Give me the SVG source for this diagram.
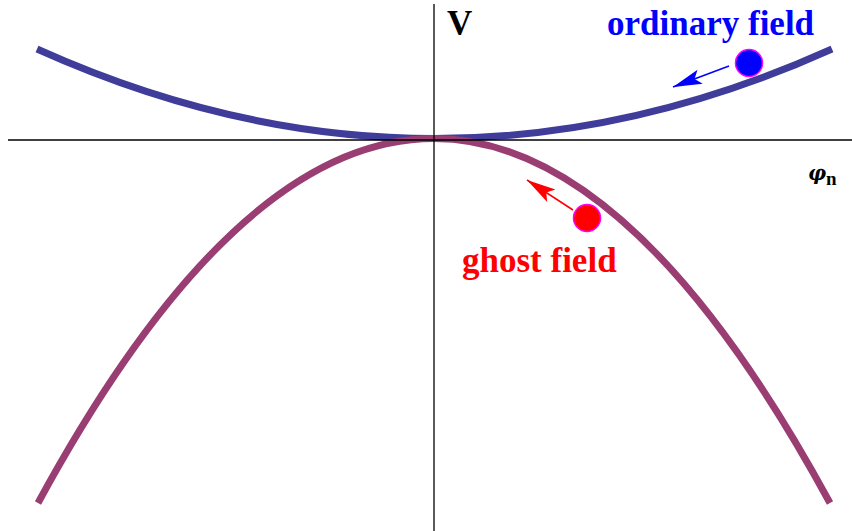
<svg xmlns="http://www.w3.org/2000/svg" width="852" height="531" viewBox="0 0 852 531">
<style>
.axis{stroke:#000;stroke-width:1.3;fill:none}
.curve{fill:none;stroke-width:7}
.lbl{font-family:"Liberation Serif","Times New Roman",serif;font-weight:bold}
</style>
<defs>
<marker id="ahBlue" markerUnits="userSpaceOnUse" markerWidth="40" markerHeight="20" viewBox="-30 -10 32 20" refX="0" refY="0" orient="auto" overflow="visible">
<path d="M0,0 L-29,-7.5 L-23,0 L-29,7.5 Z" fill="#0000ff"/>
</marker>
<marker id="ahRed" markerUnits="userSpaceOnUse" markerWidth="40" markerHeight="20" viewBox="-30 -10 32 20" refX="0" refY="0" orient="auto" overflow="visible">
<path d="M0,0 L-29,-7.5 L-23,0 L-29,7.5 Z" fill="#ff0000"/>
</marker>
</defs>
<rect width="852" height="531" fill="#fff"/>
<g id="curves">
<path id="ordinary-curve" class="curve" stroke="#3f3d99" d="M37,49 Q434.5,228 832,49"/>
<path id="ghost-curve" class="curve" stroke="#993d72" d="M38,503 Q434,-226 830,503"/>
</g>
<g id="axes">
<line class="axis" x1="8" y1="140" x2="852" y2="140"/>
<line class="axis" x1="434" y1="4" x2="434" y2="531"/>
</g>
<g id="connectors">
<line x1="729" y1="66" x2="673" y2="87" stroke="#0000ff" stroke-width="1.5" marker-end="url(#ahBlue)"/>
<line x1="573" y1="210" x2="527" y2="180" stroke="#ff0000" stroke-width="1.5" marker-end="url(#ahRed)"/>
</g>
<g id="ordinary-ball">
<circle cx="749" cy="63" r="13.5" fill="#0000ff" stroke="#ff00ff" stroke-width="1.5"/>
</g>
<g id="ghost-ball">
<circle cx="587" cy="218" r="13.5" fill="#ff0000" stroke="#ff00ff" stroke-width="1.5"/>
</g>
<g id="labels">
<text x="808" y="180" fill="#000"><tspan font-family="'DejaVu Serif', serif" font-weight="bold" font-style="italic" font-size="20">φ</tspan><tspan font-family="'Liberation Serif', serif" font-weight="bold" font-size="19" x="826" y="185">n</tspan></text>
<text class="lbl" x="607" y="35" font-size="35" fill="#0000ff">ordinary field</text>
<text class="lbl" x="462" y="272" font-size="35" fill="#ff0000">ghost field</text>
<text class="lbl" x="447" y="35" font-size="35" fill="#000">V</text>
</g>
</svg>
